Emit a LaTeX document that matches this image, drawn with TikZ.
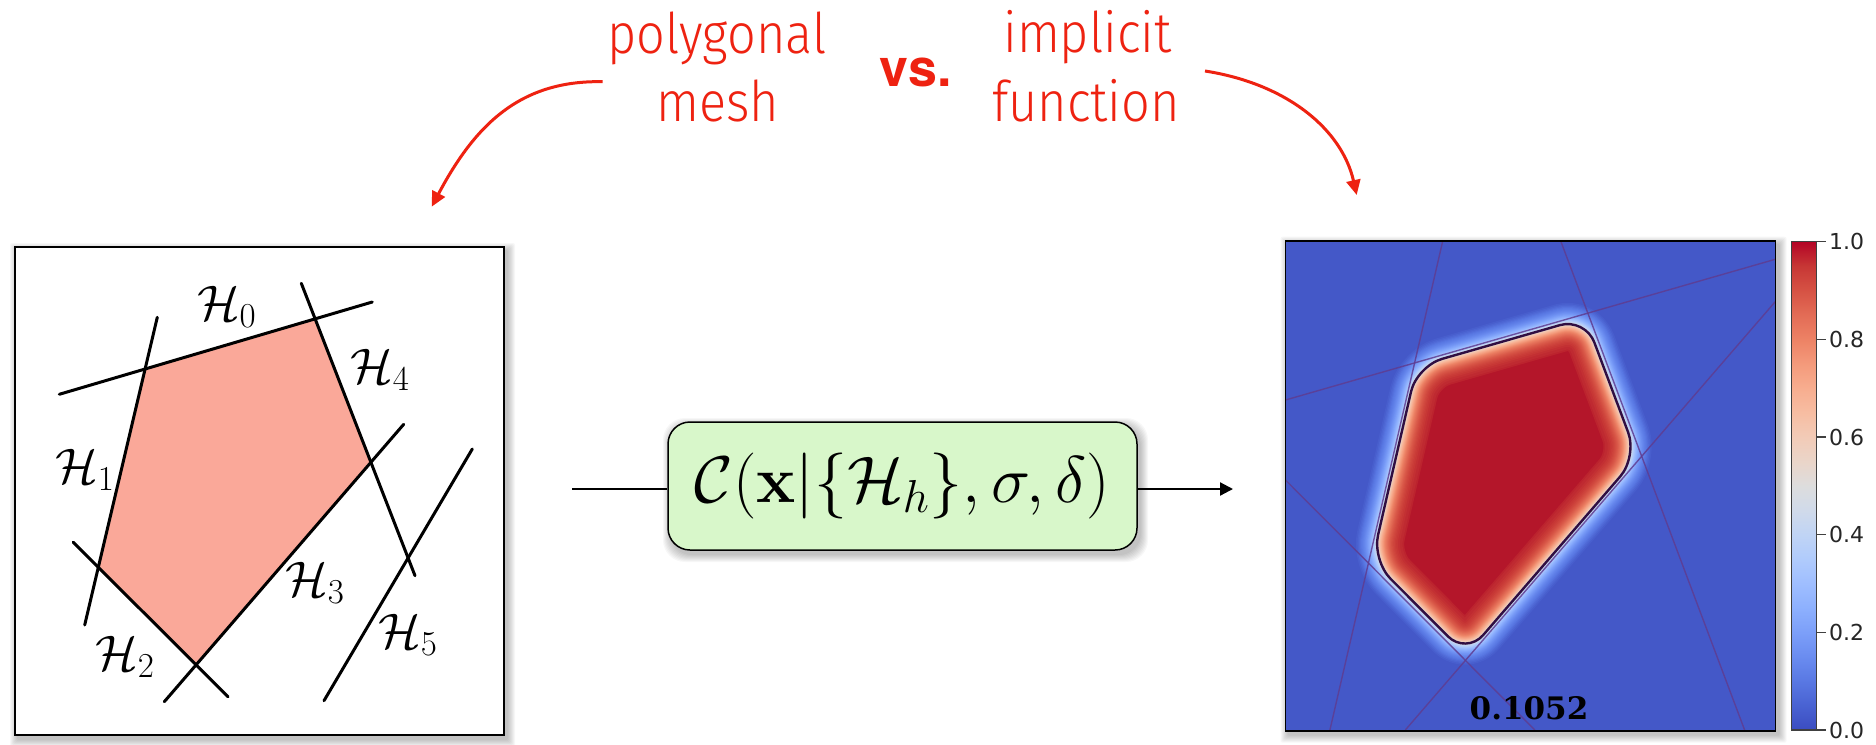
\RequirePackage{fix-cm}
\documentclass[tikz,border=0pt]{standalone}
\usepackage[no-math]{fontspec}
\usetikzlibrary{arrows.meta}
\newfontfamily\lightsf[FakeStretch=0.9]{Fira Sans Light}
\newfontfamily\heros{TeX Gyre Heros}
\newfontfamily\dvserif{DejaVu Serif}
\newfontfamily\dvsans{DejaVu Sans}
\definecolor{tred}{RGB}{238,34,17}
\definecolor{salmon}{RGB}{250,168,153}
\definecolor{boxgreen}{RGB}{216,247,202}
\definecolor{bgblue}{RGB}{68,88,200}
\definecolor{redin}{RGB}{180,22,42}
\definecolor{outl}{RGB}{48,14,66}
\definecolor{hline}{RGB}{95,60,145}
\definecolor{cw00}{RGB}{59,76,192}
\definecolor{cw05}{RGB}{73,98,210}
\definecolor{cw10}{RGB}{89,120,227}
\definecolor{cw15}{RGB}{106,140,240}
\definecolor{cw20}{RGB}{124,159,249}
\definecolor{cw25}{RGB}{141,176,254}
\definecolor{cw30}{RGB}{159,190,255}
\definecolor{cw35}{RGB}{176,203,252}
\definecolor{cw40}{RGB}{192,212,245}
\definecolor{cw45}{RGB}{208,218,234}
\definecolor{cw50}{RGB}{221,221,221}
\definecolor{cw55}{RGB}{234,213,201}
\definecolor{cw60}{RGB}{242,203,183}
\definecolor{cw65}{RGB}{247,189,162}
\definecolor{cw70}{RGB}{247,173,143}
\definecolor{cw75}{RGB}{244,154,123}
\definecolor{cw80}{RGB}{237,130,101}
\definecolor{cw85}{RGB}{227,108,86}
\definecolor{cw90}{RGB}{214,82,68}
\definecolor{cw95}{RGB}{199,55,53}
\definecolor{cw100}{RGB}{180,4,38}
\pgfdeclareverticalshading{coolwarm}{100bp}{color(0bp)=(cw00); color(25bp)=(cw00);
 color(27.5bp)=(cw05); color(30bp)=(cw10); color(32.5bp)=(cw15); color(35bp)=(cw20);
 color(37.5bp)=(cw25); color(40bp)=(cw30); color(42.5bp)=(cw35); color(45bp)=(cw40);
 color(47.5bp)=(cw45); color(50bp)=(cw50); color(52.5bp)=(cw55); color(55bp)=(cw60);
 color(57.5bp)=(cw65); color(60bp)=(cw70); color(62.5bp)=(cw75); color(65bp)=(cw80);
 color(67.5bp)=(cw85); color(70bp)=(cw90); color(72.5bp)=(cw95); color(75bp)=(cw100);
 color(100bp)=(cw100)}
\newcommand\blob[1]{\path[#1,rounded corners=26pt,line join=round] (hA) -- (hB) -- (hC) -- (hD) -- (hE) -- cycle;}
\newcommand\softshadow[5]{%
  \foreach \k in {1,...,8}{\fill[black,opacity=0.03,rounded corners=#5] ({#1-\k+3},{#2-\k+4}) rectangle ({#3+\k+3},{#4+\k+4});}}
\tikzset{
  hl/.style={line width=3pt, black, line cap=round},
  hlab/.style={font=\fontsize{50}{60}\selectfont, inner sep=0pt},
  ttl/.style={font=\lightsf\fontsize{56}{68}\selectfont, text=tred, anchor=base, inner sep=0pt},
  redarrow/.style={tred, line width=3pt, -{Triangle[length=15pt,width=14pt]}},
  thinl/.style={hline, line width=1.4pt, opacity=0.85},
  tick/.style={draw=black!75, line width=1.3pt},
  ticklab/.style={font=\dvsans\fontsize{22}{26}\selectfont, text=black!85, anchor=west, inner sep=0pt}
}
\begin{document}
\begin{tikzpicture}[x=1pt,y=-1pt]
\useasboundingbox (0,0) rectangle (1876,744);
\fill[white] (0,0) rectangle (1876,744);

% ---------- titles ----------
\node[ttl] (poly) at (717,53.3) {polygonal};
\node[ttl] (mesh) at (717.5,121.7) {mesh};
\node[anchor=base, inner sep=0pt, text=tred, font=\heros\bfseries\fontsize{52}{60}\selectfont] (vs) at (915.7,86) {vs.};
\node[ttl] (impl) at (1087.5,52.7) {implicit};
\node[ttl] (func) at (1086,121.7) {function};

\coordinate (la0) at (602.7,81.7);
\coordinate (la1) at (431.7,206.7);
\coordinate (ra0) at (1205,71);
\coordinate (ra1) at (1356.7,195);
\draw[redarrow] (la0) .. controls (520,80) and (475,125) .. (la1);
\draw[redarrow] (ra0) .. controls (1288,84) and (1342,130) .. (ra1);

% ---------- left panel ----------
\softshadow{15}{247}{504}{735}{2pt}
\node[draw=black, line width=1.3pt, fill=white, minimum width=489pt, minimum height=488pt, inner sep=0pt] (lpanel) at (259.5,491) {};
\fill[salmon] (144.7,370) -- (315.3,319.3) -- (370,462.3) -- (196,664) -- (98.3,567.3) -- cycle;
\draw[hl] (59.3,394.3) -- (372.3,302);
\draw[hl] (157.3,317.3) -- (84.7,625);
\draw[hl] (73.3,542.3) -- (228,696.7);
\draw[hl] (164.3,701.7) -- (403.7,424.3);
\draw[hl] (301.3,283.3) -- (415,575.7);
\draw[hl] (324,700.7) -- (472.3,449);
\node[hlab] (h0) at (226.7,306.7) {$\mathcal{H}_0$};
\node[hlab] (h4) at (380,370) {$\mathcal{H}_4$};
\node[hlab] (h1) at (85,470) {$\mathcal{H}_1$};
\node[hlab] (h3) at (315,583) {$\mathcal{H}_3$};
\node[hlab] (h2) at (125,656.7) {$\mathcal{H}_2$};
\node[hlab] (h5) at (408,635) {$\mathcal{H}_5$};

% ---------- middle ----------
\softshadow{668}{422}{1137}{550}{22pt}
\node[draw=black, line width=1.5pt, fill=boxgreen, rounded corners=22pt, minimum width=469pt, minimum height=128pt, inner sep=0pt, font=\fontsize{66}{80}\selectfont] (cf) at (902.5,486) {$\mathcal{C}(\mathbf{x}|\{\mathcal{H}_h\},\sigma,\delta)$};
\coordinate (inL) at (572.3,489);
\coordinate (outR) at (1233,489);
\draw[line width=2.2pt] (inL) -- (inL -| cf.west);
\draw[line width=2.2pt, -{Triangle[length=13pt,width=13pt]}] (cf.east |- inL) -- (outR);

% ---------- right panel ----------
\softshadow{1285.5}{240.7}{1775.5}{730.7}{2pt}
\coordinate (hA) at (1416.9,366.1);
\coordinate (hB) at (1585.1,317.9);
\coordinate (hC) at (1637.3,456.7);
\coordinate (hD) at (1466.2,654.7);
\coordinate (hE) at (1372.2,560.4);
\begin{scope}
\clip (1285.5,240.7) rectangle (1775.5,730.7);
\fill[bgblue] (1285.5,240.7) rectangle (1775.5,730.7);
\foreach \a/\b/\va in {bgblue/cw10/0.05, cw10/cw15/0.10, cw15/cw20/0.15, cw20/cw25/0.20, cw25/cw30/0.25, cw30/cw35/0.30, cw35/cw40/0.35, cw40/cw45/0.40, cw45/cw50/0.45}{
  \foreach \j in {0,...,4}{
    \pgfmathsetmacro\w{20*ln(0.5/(\va+0.01*\j))}
    \pgfmathtruncatemacro\p{\j*20}
    \blob{draw=\b!\p!\a, line width=\w pt}
  }}
\blob{fill=redin}
\begin{scope}
\clip[rounded corners=26pt] (hA) -- (hB) -- (hC) -- (hD) -- (hE) -- cycle;
\foreach \a/\b/\va in {cw95/redin/0.95, cw90/cw95/0.90, cw85/cw90/0.85, cw80/cw85/0.80, cw75/cw80/0.75, cw70/cw75/0.70, cw65/cw70/0.65, cw60/cw65/0.60, cw55/cw60/0.55, cw50/cw55/0.50}{
  \foreach \j in {5,4,3,2,1}{
    \pgfmathsetmacro\vv{min(\va+0.01*\j,0.975)}
    \pgfmathsetmacro\w{18*ln(0.5/(1-\vv))}
    \pgfmathtruncatemacro\p{\j*20}
    \blob{draw=\b!\p!\a, line width=\w pt}
  }}
\end{scope}
\blob{draw=outl, line width=2.4pt}
\draw[thinl] (1285.5,400) -- (1775.2,259.3);
\draw[thinl] (1442.8,240.7) -- (1329.9,730);
\draw[thinl] (1560.6,240.7) -- (1744.6,730);
\draw[thinl] (1405.3,730) -- (1775.2,301.7);
\draw[thinl] (1285.5,480) -- (1534.8,730);
\end{scope}
\node[draw=black, line width=1.6pt, minimum width=490pt, minimum height=490pt, inner sep=0pt] (heat) at (1530.5,485.7) {};
\node[font=\dvserif\bfseries\fontsize{31}{36}\selectfont, inner sep=0pt] (val) at (1529,708) {0.1052};

% colorbar
\shade[shading=coolwarm] (1791.5,241.7) rectangle (1816.5,730);
\draw[draw=black!75, line width=1.3pt] (1791.5,241.7) rectangle (1816.5,730);
\foreach \v/\yy in {0.0/730, 0.2/632.3, 0.4/534.7, 0.6/437, 0.8/339.4, 1.0/241.7}{
  \draw[tick] (1816.5,\yy) -- (1826,\yy);
  \node[ticklab] at (1829,\yy) {\v};
}
\end{tikzpicture}
\end{document}
